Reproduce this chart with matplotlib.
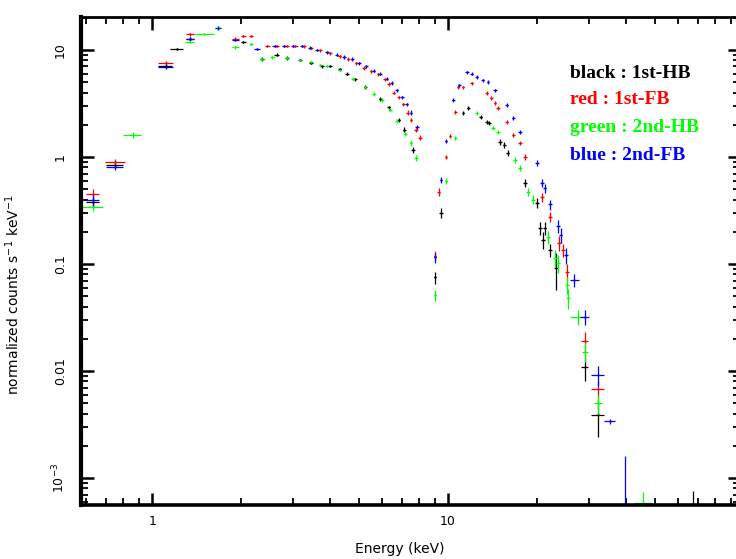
import numpy as np
import matplotlib
matplotlib.use("Agg")
import matplotlib.pyplot as plt
from matplotlib.ticker import LogLocator, FixedLocator, NullFormatter, FixedFormatter

# spectra: (energy keV, half bin width keV, counts/s/keV, error)
hb1 = [  # black : 1st-HB
    (0.63, 0.03, 0.38, 0.04), (0.75, 0.05, 0.85, 0.06), (1.11, 0.06, 7.1, 0.3),
    (1.21, 0.06, 10.2, 0.3), (1.34, 0.04, 12.7, 0.4), (2.03, 0.04, 11.9, 0.3),
    (2.35, 0.04, 8.2, 0.3), (2.64, 0.05, 9.0, 0.3), (2.86, 0.05, 8.4, 0.3),
    (3.16, 0.05, 8.1, 0.2), (3.45, 0.05, 7.6, 0.2), (3.75, 0.05, 7.0, 0.2),
    (3.99, 0.05, 7.1, 0.2), (4.30, 0.06, 6.6, 0.2), (4.55, 0.06, 6.0, 0.2),
    (4.85, 0.06, 5.3, 0.2), (5.25, 0.07, 4.5, 0.2), (5.90, 0.08, 3.5, 0.15),
    (6.30, 0.08, 2.9, 0.12), (6.80, 0.08, 2.2, 0.1), (7.10, 0.08, 1.8, 0.1),
    (7.62, 0.10, 1.16, 0.08), (9.04, 0.08, 0.075, 0.01), (9.47, 0.12, 0.30, 0.03),
    (11.24, 0.12, 2.58, 0.1), (11.7, 0.15, 2.87, 0.1), (12.9, 0.15, 2.37, 0.1),
    (13.5, 0.15, 2.12, 0.1), (13.8, 0.15, 2.08, 0.1), (15.0, 0.2, 1.38, 0.08),
    (15.5, 0.2, 1.29, 0.08), (15.9, 0.2, 1.09, 0.07), (18.2, 0.3, 0.57, 0.05),
    (20.0, 0.3, 0.37, 0.04), (20.4, 0.3, 0.217, 0.03), (20.9, 0.3, 0.168, 0.03),
    (21.2, 0.3, 0.217, 0.03), (22.1, 0.35, 0.135, 0.02), (23.2, 0.4, 0.092, 0.035),
    (29.0, 0.8, 0.011, 0.003), (32.1, 1.6, 0.0039, 0.0015), (67.0, 3.0, 0.0003, 0.00045),
]

fb1 = [  # red : 1st-FB
    (0.63, 0.03, 0.45, 0.05), (0.75, 0.058, 0.90, 0.05), (1.11, 0.065, 7.5, 0.3),
    (1.34, 0.04, 14.0, 0.5), (1.91, 0.05, 12.7, 0.4), (2.03, 0.04, 13.5, 0.4),
    (2.16, 0.04, 13.5, 0.4), (2.45, 0.05, 10.9, 0.3), (2.64, 0.05, 10.9, 0.3),
    (2.86, 0.05, 10.9, 0.3), (3.05, 0.05, 10.9, 0.3), (3.25, 0.05, 10.8, 0.3),
    (3.45, 0.05, 10.4, 0.3), (3.70, 0.05, 9.9, 0.3), (4.00, 0.06, 9.3, 0.3),
    (4.30, 0.06, 8.7, 0.3), (4.60, 0.06, 8.2, 0.3), (4.90, 0.06, 7.5, 0.25),
    (5.20, 0.07, 6.8, 0.25), (5.50, 0.07, 6.3, 0.2), (5.80, 0.07, 5.9, 0.2),
    (6.10, 0.08, 5.3, 0.2), (6.30, 0.08, 4.8, 0.2), (6.55, 0.08, 4.0, 0.15),
    (6.80, 0.08, 3.6, 0.15), (7.05, 0.08, 3.1, 0.12), (7.30, 0.08, 2.6, 0.12),
    (7.50, 0.08, 2.2, 0.1), (7.80, 0.1, 1.79, 0.08), (8.04, 0.1, 1.51, 0.08),
    (9.04, 0.08, 0.12, 0.012), (9.30, 0.1, 0.47, 0.04), (9.84, 0.1, 1.0, 0.05),
    (10.16, 0.1, 1.57, 0.06), (10.56, 0.12, 2.63, 0.1), (10.8, 0.12, 4.5, 0.15),
    (11.24, 0.12, 4.5, 0.15), (12.0, 0.15, 4.9, 0.15), (13.5, 0.15, 3.96, 0.15),
    (14.0, 0.15, 3.56, 0.12), (14.4, 0.15, 3.2, 0.12), (14.75, 0.2, 2.87, 0.1),
    (15.8, 0.2, 2.12, 0.1), (16.6, 0.2, 1.61, 0.08), (17.5, 0.25, 1.35, 0.07),
    (18.2, 0.25, 1.0, 0.06), (20.8, 0.3, 0.42, 0.04), (22.1, 0.35, 0.275, 0.03),
    (23.7, 0.35, 0.157, 0.025), (24.5, 0.4, 0.135, 0.02), (25.2, 0.4, 0.084, 0.015),
    (29.0, 0.8, 0.019, 0.004), (32.1, 1.6, 0.0068, 0.0012),
]

hb2 = [  # green : 2nd-HB
    (0.63, 0.05, 0.34, 0.03), (0.86, 0.06, 1.61, 0.1), (1.34, 0.05, 11.9, 0.4),
    (1.50, 0.12, 14.1, 0.4), (1.67, 0.04, 16.0, 0.6), (1.91, 0.05, 10.6, 0.3),
    (2.16, 0.04, 11.4, 0.3), (2.35, 0.05, 8.2, 0.3), (2.55, 0.05, 8.5, 0.3),
    (2.86, 0.05, 8.4, 0.3), (3.16, 0.05, 8.1, 0.2), (3.45, 0.05, 7.7, 0.2),
    (3.70, 0.05, 7.2, 0.2), (3.90, 0.05, 7.1, 0.2), (4.30, 0.06, 6.5, 0.2),
    (4.77, 0.06, 5.4, 0.2), (5.25, 0.07, 4.5, 0.2), (5.60, 0.07, 3.9, 0.15),
    (5.98, 0.08, 3.41, 0.15), (6.36, 0.08, 2.75, 0.12), (6.72, 0.08, 2.17, 0.1),
    (7.16, 0.08, 1.64, 0.08), (7.50, 0.08, 1.35, 0.08), (7.80, 0.1, 0.98, 0.07),
    (9.04, 0.08, 0.051, 0.006), (9.84, 0.1, 0.60, 0.04), (10.56, 0.12, 1.51, 0.06),
    (12.5, 0.15, 2.58, 0.1), (14.2, 0.2, 1.87, 0.08), (14.75, 0.2, 1.71, 0.08),
    (16.8, 0.25, 0.94, 0.06), (17.5, 0.25, 0.79, 0.05), (18.6, 0.3, 0.47, 0.04),
    (19.4, 0.3, 0.40, 0.04), (21.7, 0.35, 0.179, 0.025), (23.0, 0.35, 0.114, 0.02),
    (23.5, 0.35, 0.102, 0.02), (25.2, 0.4, 0.064, 0.012), (25.4, 0.4, 0.048, 0.01),
    (27.5, 1.6, 0.032, 0.005), (29.0, 0.7, 0.0151, 0.003), (32.1, 1.0, 0.0050, 0.001),
    (45.6, 3.0, 0.00058, 0.00016),
]

fb2 = [  # blue : 2nd-FB
    (0.63, 0.03, 0.40, 0.05), (0.75, 0.05, 0.80, 0.05), (1.11, 0.065, 6.9, 0.3),
    (1.34, 0.04, 12.7, 0.4), (1.67, 0.04, 16.1, 0.6), (1.91, 0.05, 12.5, 0.4),
    (2.26, 0.05, 10.2, 0.3), (2.60, 0.05, 10.9, 0.3), (2.80, 0.05, 10.9, 0.3),
    (3.00, 0.05, 10.9, 0.3), (3.20, 0.05, 10.9, 0.3), (3.42, 0.05, 10.5, 0.3),
    (3.61, 0.05, 10.0, 0.3), (3.90, 0.06, 9.5, 0.3), (4.20, 0.06, 9.0, 0.3),
    (4.45, 0.06, 8.6, 0.3), (4.75, 0.06, 8.2, 0.3), (5.00, 0.07, 7.5, 0.25),
    (5.30, 0.07, 7.0, 0.25), (5.60, 0.07, 6.4, 0.2), (5.90, 0.07, 6.0, 0.2),
    (6.20, 0.08, 5.4, 0.2), (6.45, 0.08, 4.9, 0.2), (6.70, 0.08, 4.2, 0.15),
    (7.00, 0.08, 3.6, 0.15), (7.25, 0.08, 3.1, 0.12), (7.50, 0.08, 2.6, 0.12),
    (7.85, 0.1, 1.91, 0.08), (9.04, 0.08, 0.115, 0.012), (9.47, 0.1, 0.61, 0.04),
    (9.84, 0.1, 1.41, 0.06), (10.4, 0.12, 3.4, 0.12), (10.9, 0.12, 4.7, 0.15),
    (11.6, 0.15, 6.2, 0.2), (12.0, 0.15, 6.0, 0.2), (12.5, 0.15, 5.6, 0.2),
    (13.1, 0.15, 5.2, 0.18), (13.65, 0.15, 5.0, 0.18), (14.4, 0.2, 4.2, 0.15),
    (15.8, 0.2, 3.06, 0.12), (16.6, 0.2, 2.31, 0.1), (17.5, 0.25, 1.71, 0.08),
    (20.0, 0.3, 0.88, 0.06), (20.8, 0.3, 0.57, 0.05), (21.2, 0.3, 0.51, 0.05),
    (22.1, 0.35, 0.36, 0.04), (23.5, 0.35, 0.226, 0.03), (24.0, 0.35, 0.187, 0.03),
    (25.0, 0.4, 0.121, 0.02), (26.7, 0.9, 0.071, 0.01), (29.0, 1.0, 0.032, 0.005),
    (32.1, 1.6, 0.0092, 0.002), (35.2, 1.5, 0.0034, 0.0002), (39.6, 1.0, 0.0004, 0.0012),
]

series = [("black", hb1, "black : 1st-HB"),
          ("red", fb1, "red : 1st-FB"),
          ("#00ff00", hb2, "green : 2nd-HB"),
          ("blue", fb2, "blue : 2nd-FB")]

fig = plt.figure(figsize=(7.36, 5.59), dpi=100)
ax = fig.add_axes([81 / 736, 54 / 559, 659 / 736, 488 / 559])

for col, data, lab in series:
    d = np.array(data)
    e, de, c, dc = d[:, 0], d[:, 1], d[:, 2], d[:, 3]
    lo = np.minimum(dc, 0.95 * c)
    ax.errorbar(e, c, xerr=de, yerr=[lo, dc], fmt='o', ms=1.6, mew=0,
                color=col, ecolor=col, elinewidth=0.9, capsize=0)

ax.set_xscale('log')
ax.set_yscale('log')
ax.set_xlim(0.575, 96.9)
ax.set_ylim(5.6e-4, 20.3)

# PGPLOT-like frame: inward ticks on all sides
ax.xaxis.set_major_locator(FixedLocator([1, 10]))
ax.xaxis.set_major_formatter(FixedFormatter(['1', '10']))
ax.xaxis.set_minor_locator(LogLocator(base=10, subs=np.arange(2, 10)))
ax.xaxis.set_minor_formatter(NullFormatter())
ax.yaxis.set_major_locator(FixedLocator([1e-3, 1e-2, 0.1, 1, 10]))
ax.yaxis.set_major_formatter(FixedFormatter(['10$^{-3}$', '0.01', '0.1', '1', '10']))
ax.yaxis.set_minor_locator(LogLocator(base=10, subs=np.arange(2, 10)))
ax.yaxis.set_minor_formatter(NullFormatter())
ax.tick_params(which='both', direction='in', top=True, right=True, colors='black')
ax.tick_params(which='major', length=9, width=1.8, labelsize=9)
ax.tick_params(which='minor', length=5, width=1.3)
ax.tick_params(axis='y', which='major', pad=10)
ax.tick_params(axis='x', which='major', pad=7)
for lbl in ax.get_yticklabels():
    lbl.set_rotation(90)
    lbl.set_va('center')
for side, lw in [('left', 3.0), ('bottom', 2.6), ('top', 2.0), ('right', 2.0)]:
    ax.spines[side].set_linewidth(lw)

ax.set_xlabel('Energy (keV)', fontsize=10)
ax.xaxis.set_label_coords(0.484, -0.075)
ax.set_ylabel('normalized counts s$^{-1}$ keV$^{-1}$', fontsize=10)
ax.yaxis.set_label_coords(-0.09, 0.43)

# colour key written as plain text
ty = [0.885, 0.830, 0.773, 0.717]
for (col, _, lab), yy in zip(series, ty):
    ax.text(0.742, yy, lab, transform=ax.transAxes, color=col, fontsize=14,
            family='Liberation Serif', fontweight='bold', va='center')

fig.savefig('out.png', dpi=100)
